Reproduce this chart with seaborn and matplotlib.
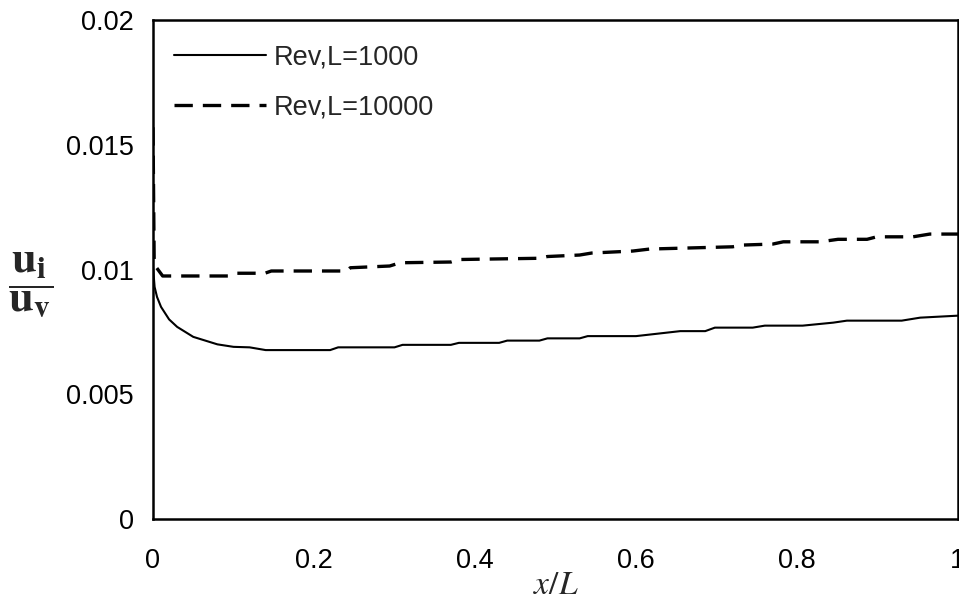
import numpy as np
import pandas as pd
import matplotlib
matplotlib.use("Agg")
import matplotlib.pyplot as plt
import seaborn as sns

# Velocity ratio u_i/u_v along the channel for two Reynolds numbers
x_1000 = [0, 0.002, 0.005, 0.01, 0.02, 0.03, 0.04, 0.05, 0.06, 0.08, 0.10, 0.12,
          0.14, 0.22, 0.23, 0.30, 0.31, 0.37, 0.38, 0.43, 0.44, 0.48, 0.49, 0.53,
          0.54, 0.60, 0.655, 0.686, 0.698, 0.745, 0.76, 0.807, 0.845, 0.862, 0.93,
          0.953, 1.0]
u_1000 = [0.0101, 0.0093, 0.0089, 0.0085, 0.0080, 0.0077, 0.0075, 0.0073, 0.0072,
          0.0070, 0.0069, 0.00688, 0.00677, 0.00677, 0.00688, 0.00688, 0.00698,
          0.00698, 0.00706, 0.00706, 0.00715, 0.00715, 0.00724, 0.00724, 0.00733,
          0.00733, 0.00753, 0.00753, 0.00767, 0.00767, 0.00775, 0.00775, 0.00787,
          0.00795, 0.00795, 0.00807, 0.00815]

x_10000 = [0, 0.0015, 0.012, 0.093, 0.102, 0.139, 0.147, 0.241, 0.245, 0.294, 0.307,
           0.37, 0.38, 0.48, 0.49, 0.53, 0.545, 0.596, 0.617, 0.72, 0.733, 0.77,
           0.783, 0.829, 0.851, 0.887, 0.899, 0.944, 0.965, 1.0]
u_10000 = [0.0157, 0.0102, 0.00974, 0.00974, 0.00985, 0.00985, 0.00994, 0.00994,
           0.01007, 0.01014, 0.01027, 0.01030, 0.01040, 0.01045, 0.01052, 0.01058,
           0.01066, 0.01074, 0.01082, 0.01091, 0.01098, 0.01102, 0.01111, 0.01111,
           0.01121, 0.01121, 0.01131, 0.01131, 0.01142, 0.01142]

labels = ["Rev,L=1000", "Rev,L=10000"]
x_ticks = [0, 0.2, 0.4, 0.6, 0.8, 1]
x_ticklabels = ["0", "0.2", "0.4", "0.6", "0.8", "1"]
y_ticks = [0, 0.005, 0.01, 0.015, 0.02]
y_ticklabels = ["0", "0.005", "0.01", "0.015", "0.02"]

sns.set_style("white")
plt.rcParams["font.family"] = ["Liberation Sans", "DejaVu Sans"]
plt.rcParams["mathtext.fontset"] = "stix"

fig = plt.figure(figsize=(9.59, 6.10), dpi=100)
ax = fig.add_axes([153 / 959, 1 - 519 / 610, 805 / 959, 499 / 610])

df1 = pd.DataFrame({"x": x_1000, "u": u_1000})
df2 = pd.DataFrame({"x": x_10000, "u": u_10000})

sns.lineplot(data=df1, x="x", y="u", ax=ax, color="black", linewidth=1.5,
             label=labels[0], estimator=None, sort=False)
sns.lineplot(data=df2, x="x", y="u", ax=ax, color="black", linewidth=2.4,
             label=labels[1], estimator=None, sort=False)
ax.lines[1].set_dashes([5.5, 3])

ax.set_xlim(0, 1)
ax.set_ylim(0, 0.02)
ax.set_xticks(x_ticks)
ax.set_xticklabels(x_ticklabels)
ax.set_yticks(y_ticks)
ax.set_yticklabels(y_ticklabels)
ax.tick_params(axis="both", direction="out", length=6, width=1, color="#808080",
               labelsize=19.5, labelcolor="black")
ax.tick_params(axis="x", pad=15)
ax.tick_params(axis="y", pad=8)

for side in ["left", "bottom", "top", "right"]:
    ax.spines[side].set_visible(True)
    ax.spines[side].set_color("black")
    ax.spines[side].set_linewidth(1.8)

ax.set_xlabel(r"$x/L$", fontsize=24, va="center")
ax.xaxis.set_label_coords(0.5, -0.133)
ax.set_ylabel(r"$\dfrac{\mathbf{u}_{\mathbf{i}}}{\mathbf{u}_{\mathbf{v}}}$",
              fontsize=32, rotation=0, va="center", ha="center")
ax.yaxis.set_label_coords(-0.152, 0.47)

leg = ax.legend(frameon=False, loc="upper left", bbox_to_anchor=(0.026, 0.951),
                fontsize=19.5, handlelength=3.4, handletextpad=0.3,
                labelspacing=0.87, borderaxespad=0, borderpad=0)
leg.get_lines()[1].set_dashes([5.5, 3])

fig.savefig("out.png", dpi=100)
